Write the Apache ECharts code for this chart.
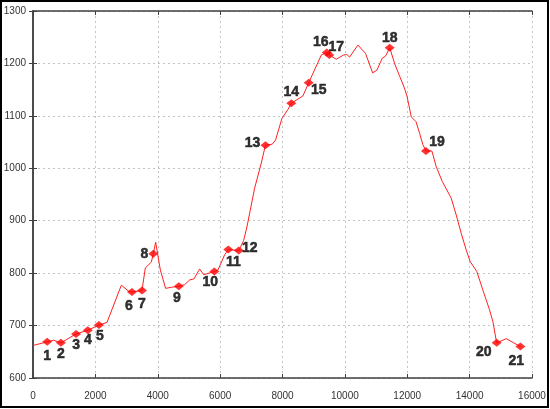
<!DOCTYPE html>
<html>
<head>
<meta charset="utf-8">
<script src="https://cdn.jsdelivr.net/npm/echarts@6/dist/echarts.min.js"></script>
<style>
  html, body { margin: 0; padding: 0; background: #fff; }
  #chart { width: 550px; height: 409px; }
</style>
</head>
<body>
<div id="chart"></div>
<script>
// elevation profile (distance, altitude)
var profileX = [0, 455, 663, 893, 1380, 1758, 2115, 2372, 2833, 3077, 3173, 3494, 3602, 3794, 3858, 3933,
  4083, 4253, 4436, 4675, 4862, 5022, 5160, 5343, 5471, 5814, 5930, 6144, 6263, 6598, 6753, 6859,
  7106, 7320, 7453, 7673, 7779, 7981, 8173, 8282, 8654, 8840, 9244, 9420, 9500, 9724, 9958, 10064,
  10150, 10417, 10663, 10890, 11026, 11199, 11304, 11437, 11600, 11760, 11910, 11990, 12130, 12280,
  12400, 12500, 12600, 12790, 12929, 13122, 13410, 13570, 13731, 13891, 14019, 14231, 14423, 14638,
  14744, 14867, 15173, 15385, 15627];
var profileY = [662, 669, 672, 667, 684, 691, 701, 706, 777, 765, 764, 767, 810, 821, 837, 859,
  806, 771, 773, 775, 778, 787, 789, 808, 797, 803, 806, 835, 845, 843, 862, 888,
  962, 1010, 1044, 1046, 1054, 1095, 1112, 1124, 1138, 1163, 1216, 1221, 1216, 1208, 1216, 1217,
  1212, 1235, 1219, 1182, 1187, 1210, 1214, 1230, 1199, 1175, 1153, 1138, 1098, 1089,
  1066, 1045, 1033, 1033, 1003, 975, 943, 911, 876, 844, 822, 803, 768, 730,
  708, 667, 675, 668, 660];

// numbered stops
var stopNames = ['1', '2', '3', '4', '5', '6', '7', '8', '9', '10', '11', '12', '13', '14', '15',
  '16', '17', '18', '19', '20', '21'];
var stopX = [455, 893, 1380, 1758, 2115, 3173, 3494, 3858, 4675, 5814, 6263, 6598, 7453, 8282, 8840,
  9420, 9500, 11437, 12600, 14867, 15627];
var stopY = [669, 667, 684, 691, 701, 764, 767, 837, 775, 803, 845, 843, 1044, 1124, 1163,
  1221, 1216, 1230, 1033, 667, 660];

var xTicks = { min: 0, max: 16000, step: 2000 };
var yTicks = { min: 600, max: 1300, step: 100 };

// where each number sits relative to its marker
var labelShift = [[0, 14], [0, 11], [0, 11], [0, 10], [1, 11], [-3, 14], [0, 14], [-9, 0], [-2, 12],
  [-4, 11], [5, 13], [11, -2], [-13, -2], [0, -11], [10, 7], [-6, -10], [7, -8], [0, -10], [11, -9],
  [-13, 9], [-4, 15]];

var myChart = echarts.init(document.getElementById('chart'));

var lineData = profileX.map(function (x, i) { return [x, profileY[i]]; });
var stopData = stopX.map(function (x, i) {
  return {
    value: [x, stopY[i]],
    name: stopNames[i],
    label: { offset: labelShift[i] }
  };
});

var gridLine = { show: true, lineStyle: { color: '#c4c4c4', type: [2, 3], width: 1 } };
var frame = { show: true, lineStyle: { color: '#404040', width: 1.5 } };
var tick = { show: true, inside: true, length: 4, lineStyle: { color: '#404040' } };
var tickLabel = {
  color: '#333', fontSize: 10, fontFamily: 'Liberation Sans, Arial',
  formatter: function (v) { return String(v); }
};

myChart.setOption({
  animation: false,
  backgroundColor: '#fff',
  grid: { left: 33, top: 11, right: 18, bottom: 31 },
  graphic: [{
    type: 'rect',
    shape: { x: 1, y: 1, width: 547, height: 406 },
    style: { fill: 'none', stroke: '#000', lineWidth: 2 },
    silent: true
  }],
  xAxis: [{
    type: 'value', min: xTicks.min, max: xTicks.max, interval: xTicks.step,
    axisLine: frame, axisTick: tick, splitLine: gridLine,
    axisLabel: Object.assign({ margin: 13 }, tickLabel)
  }, {
    type: 'value', position: 'top', min: xTicks.min, max: xTicks.max, interval: xTicks.step,
    axisLine: frame, axisTick: tick, splitLine: { show: false }, axisLabel: { show: false }
  }],
  yAxis: [{
    type: 'value', min: yTicks.min, max: yTicks.max, interval: yTicks.step,
    axisLine: frame, axisTick: tick, splitLine: gridLine,
    axisLabel: Object.assign({ margin: 7 }, tickLabel)
  }, {
    type: 'value', position: 'right', min: yTicks.min, max: yTicks.max, interval: yTicks.step,
    axisLine: frame, axisTick: tick, splitLine: { show: false }, axisLabel: { show: false }
  }],
  series: [
    {
      type: 'line',
      data: lineData,
      showSymbol: false,
      lineStyle: { color: '#ff2020', width: 1 },
      z: 2
    },
    {
      type: 'scatter',
      data: stopData,
      symbol: 'diamond',
      symbolSize: [10, 8],
      itemStyle: { color: '#ff0000' },
      label: {
        show: true,
        position: 'inside',
        formatter: '{b}',
        color: '#000',
        textBorderColor: '#000',
        textBorderWidth: 0.5,
        fontSize: 14,
        fontWeight: 'bold',
        fontFamily: 'Liberation Sans Narrow, Liberation Sans, Arial',
        align: 'center',
        verticalAlign: 'middle'
      },
      z: 3
    }
  ]
});
</script>
</body>
</html>
